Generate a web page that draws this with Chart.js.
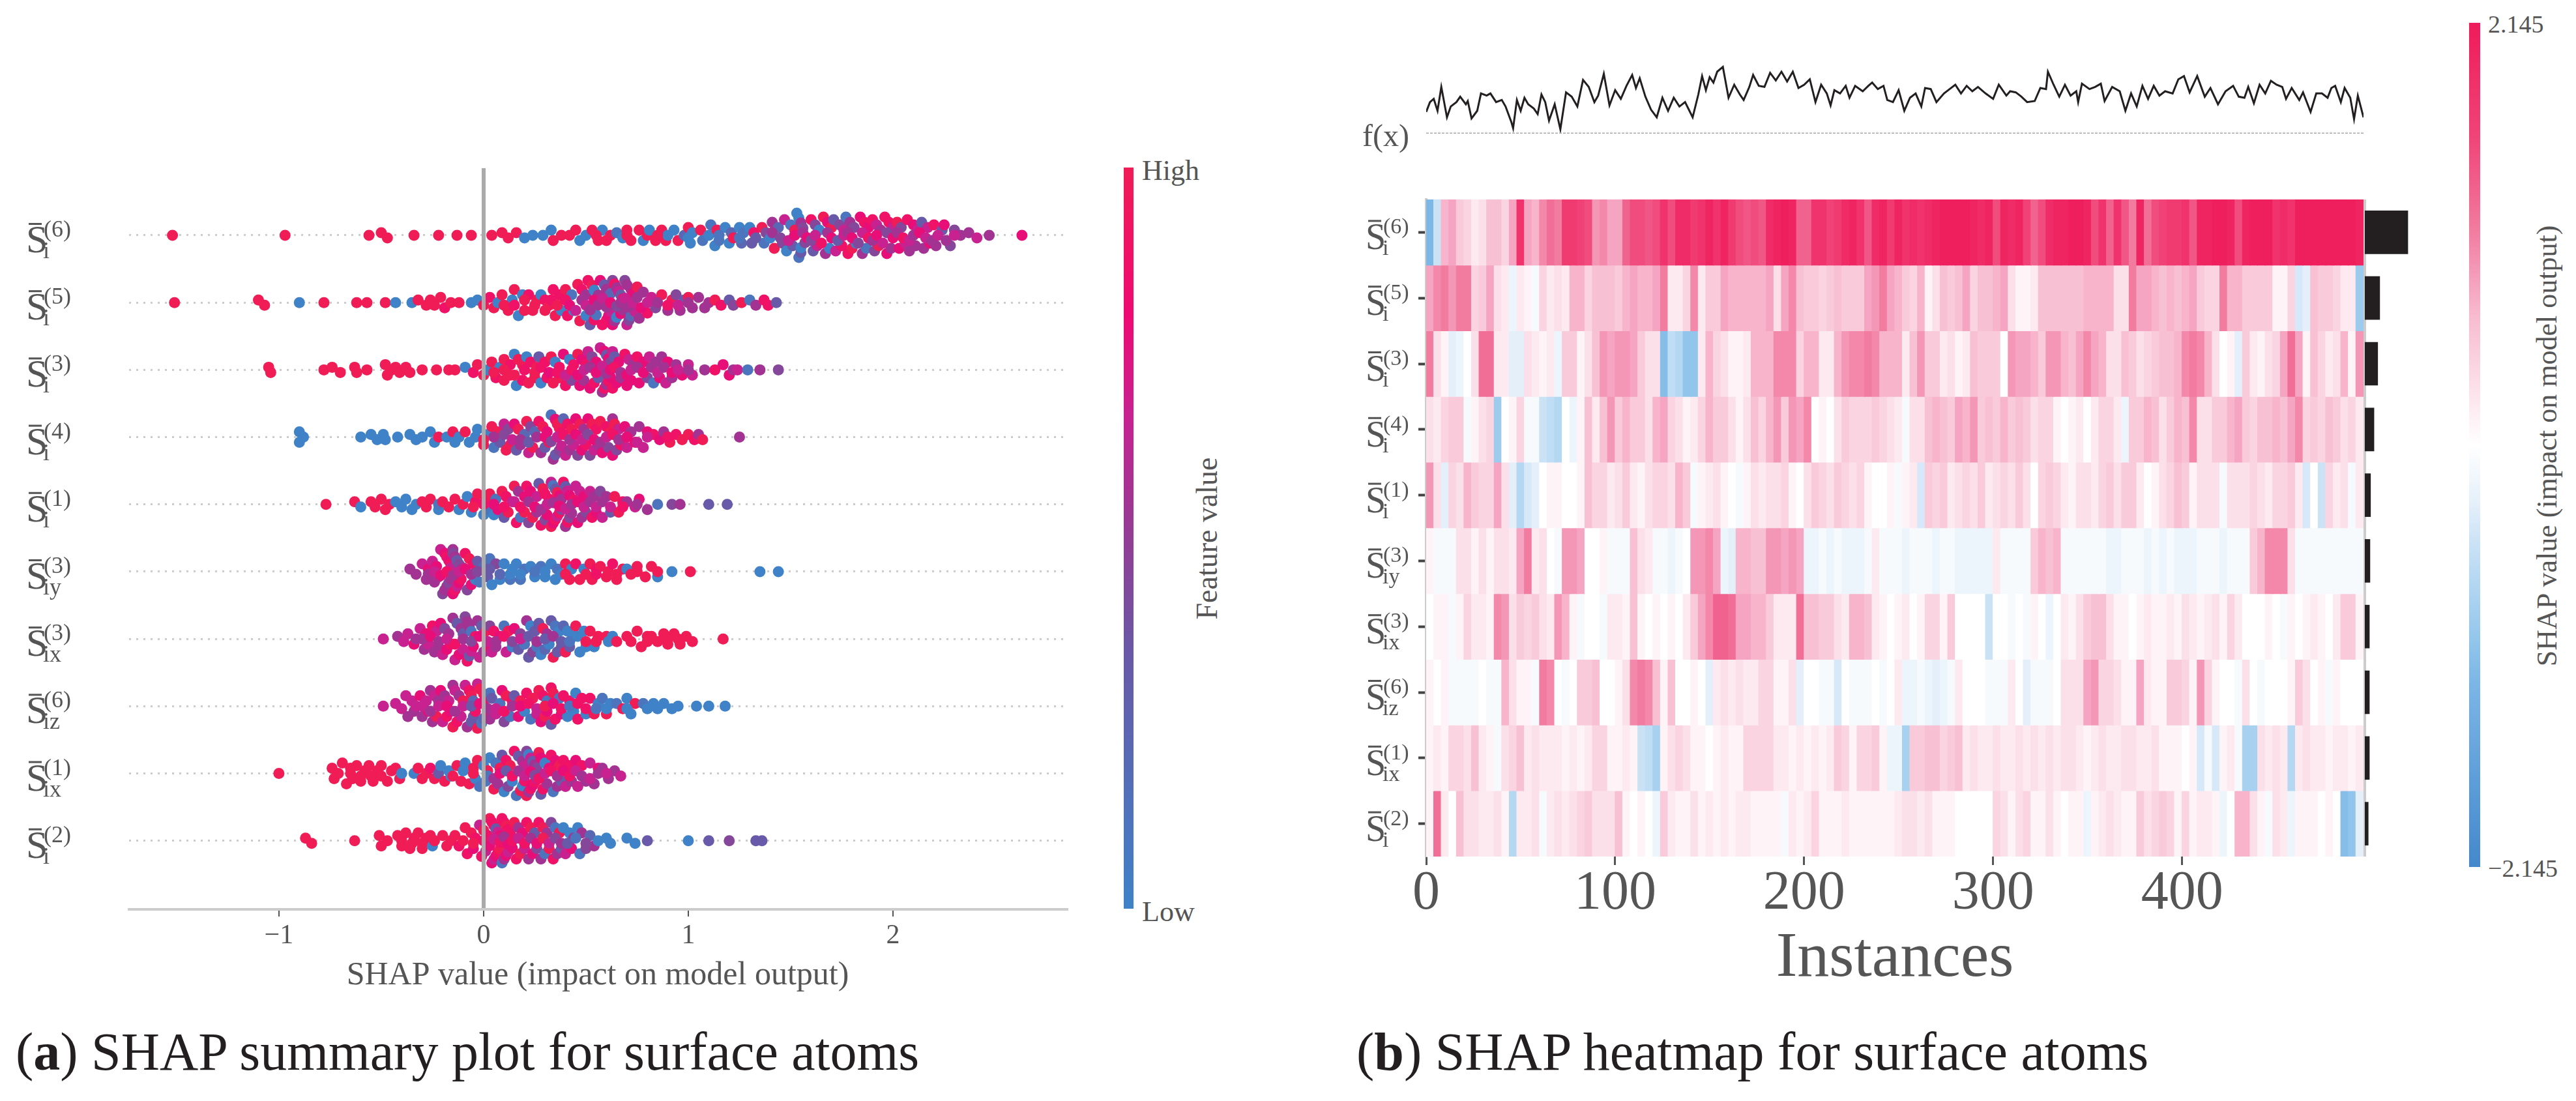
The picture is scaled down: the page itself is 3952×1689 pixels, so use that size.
<!DOCTYPE html>
<html>
<head>
<meta charset="utf-8">
<title>SHAP summary plot and heatmap</title>
<script src="https://cdn.jsdelivr.net/npm/chart.js@4"></script>
<style>
  html, body { margin: 0; background: #fff; }
  body { position: relative; width: 3952px; height: 1689px; overflow: hidden; font-family: "Liberation Serif", serif; color: #555; }
  canvas { position: absolute; }
  .lbl { position: absolute; white-space: nowrap; line-height: 1; }
  .rot { transform: translate(-50%, -50%) rotate(-90deg); }
  .cap { color: #231f20; font-size: 82px; top: 1573px; }
  .bar { position: absolute; }
</style>
</head>
<body>
<canvas id="swarmChart" width="1720" height="1560" style="left:0;top:0"></canvas>
<canvas id="fxChart" width="1640" height="230" style="left:2000px;top:0"></canvas>
<canvas id="heatChart" width="1640" height="1560" style="left:2000px;top:0"></canvas>
<canvas id="meanChart" width="120" height="1008" style="left:3600px;top:306px"></canvas>

<div class="bar" id="cbarLeft" style="left:1724px;top:257px;width:15px;height:1137px"></div>
<div class="lbl" style="left:1752px;top:240px;font-size:44px">High</div>
<div class="lbl" style="left:1752px;top:1377px;font-size:44px">Low</div>
<div class="lbl rot" style="left:1852px;top:826px;font-size:46px">Feature value</div>

<div class="bar" id="cbarRight" style="left:3788px;top:35px;width:17px;height:1295px"></div>
<div class="lbl" style="left:3817px;top:18px;font-size:38px">2.145</div>
<div class="lbl" style="left:3817px;top:1313px;font-size:38px">−2.145</div>
<div class="lbl rot" style="left:3908px;top:684px;font-size:44px">SHAP value (impact on model output)</div>

<div class="lbl" style="left:2090px;top:184px;font-size:48px">f(x)</div>
<div class="lbl cap" style="left:24px">(<b>a</b>) SHAP summary plot for surface atoms</div>
<div class="lbl cap" style="left:2081px">(<b>b</b>) SHAP heatmap for surface atoms</div>

<script>
// ================= ROW NAMES =================
const rowSub = ["i", "i", "i", "i", "i", "iy", "ix", "iz", "ix", "i"];
const rowSup = ["(6)", "(5)", "(3)", "(4)", "(1)", "(3)", "(3)", "(6)", "(1)", "(2)"];
const shapTicks = [-1, 0, 1, 2];
const instanceTicks = [0, 100, 200, 300, 400];

// ================= SWARM: SHAP VALUE + FEATURE VALUE (0 low .. 9 high) =================
const shap6 = [
  -1.52,-.97,-.56,-.5,-.47,-.34,-.22,-.13,-.06,.04,
  .09,.12,.16,.2,.24,.29,.33,.34,.38,.42,
  .45,.47,.5,.53,.56,.58,.6,.62,.65,.68,
  .7,.72,.76,.78,.8,.81,.84,.87,.89,.9,
  .93,.95,.98,1.0,1.01,1.02,1.06,1.07,1.1,1.11,
  1.13,1.14,1.15,1.18,1.2,1.21,1.22,1.25,1.26,1.27,
  1.3,1.31,1.32,1.36,1.37,1.38,1.4,1.41,1.42,1.44,
  1.46,1.47,1.48,1.5,1.51,1.52,1.53,1.54,1.54,1.55,
  1.55,1.55,1.56,1.57,1.6,1.61,1.62,1.63,1.64,1.66,
  1.67,1.68,1.69,1.7,1.71,1.72,1.74,1.75,1.76,1.77,
  1.78,1.79,1.8,1.81,1.82,1.84,1.85,1.86,1.87,1.88,
  1.9,1.91,1.92,1.93,1.94,1.96,1.97,1.98,1.99,2.0,
  2.02,2.03,2.04,2.06,2.07,2.08,2.1,2.11,2.12,2.14,
  2.15,2.17,2.18,2.2,2.21,2.24,2.25,2.28,2.3,2.33,
  2.37,2.41,2.47,2.63,
  1.41,1.45,1.49,1.52,1.56,1.58,1.6,1.62,1.65,1.68,
  1.7,1.73,1.76,1.78,1.8,1.83,1.85,1.88,1.9,1.92,
  1.95,1.97,2.0,2.02,2.05,2.08,2.1,2.13,2.16,2.19,
  2.22,2.26,2.3,.55,.7,.85,1.0,1.15,1.25,1.33];
const feat6 = [
  9,9,9,9,9,9,9,9,9,9,
  9,9,9,0,0,0,0,9,9,9,
  9,0,0,9,9,0,9,9,1,0,
  9,9,9,0,9,0,9,9,9,0,
  0,9,2,9,0,0,9,1,0,1,
  0,9,1,0,0,2,9,0,2,1,
  0,3,8,9,1,4,0,5,9,2,
  4,6,0,1,3,9,0,1,0,3,
  5,0,4,4,8,3,4,6,0,9,
  5,7,0,9,3,6,4,8,6,1,
  8,5,9,4,0,7,5,8,1,7,
  8,4,6,9,5,8,7,8,5,6,
  9,7,4,6,8,5,7,5,6,3,
  5,6,7,8,5,3,7,4,4,5,
  5,6,5,7,
  5,4,6,7,5,7,4,6,8,5,
  7,3,6,5,7,4,6,8,5,7,
  6,4,7,5,8,6,5,7,6,5,
  6,5,6,9,9,9,0,1,1,3];
const shap5 = [
  -1.51,-1.1,-1.07,-.9,-.78,-.62,-.57,-.48,-.43,-.35,
  -.32,-.28,-.26,-.24,-.21,-.19,-.16,-.12,-.06,-.03,
  0,.03,.05,.07,.09,.12,.14,.15,.17,.19,
  .2,.22,.24,.26,.28,.3,.3,.32,.34,.35,
  .37,.38,.4,.41,.43,.44,.46,.47,.48,.5,
  .5,.51,.52,.53,.54,.54,.55,.56,.57,.58,
  .59,.6,.6,.61,.62,.62,.63,.63,.64,.64,
  .65,.65,.66,.67,.67,.68,.68,.69,.7,.7,
  .71,.72,.72,.73,.74,.75,.76,.78,.8,.82,
  .84,.87,.9,.92,.94,.96,.98,1.0,1.02,1.05,
  1.08,1.1,1.13,1.16,1.2,1.22,1.26,1.3,1.33,1.37,
  1.39,1.43,
  .33,.36,.4,.42,.45,.48,.5,.52,.54,.56,
  .58,.6,.62,.65,.67,.69,.71,.73,.75,.77,
  .8,.85,.9,.95,1.0,.2,.25,.1,.15];
const feat5 = [
  9,9,9,0,9,9,9,9,0,0,
  9,9,9,9,9,8,9,9,0,0,
  9,8,9,0,9,9,0,9,0,0,
  9,8,9,9,0,9,8,9,8,9,
  8,0,9,8,1,0,9,9,8,0,
  5,8,3,9,8,0,1,5,7,8,
  3,8,5,7,2,6,4,7,8,5,
  5,0,6,7,3,5,8,4,6,5,
  4,5,2,7,6,9,5,5,8,6,
  4,9,5,9,4,5,3,9,5,5,
  5,5,9,8,3,4,9,1,5,8,
  8,3,
  8,9,8,7,6,5,6,5,7,5,
  6,5,7,4,5,6,5,6,5,7,
  6,5,8,6,5,9,9,9,8];
const shap3 = [
  -1.05,-1.04,-.78,-.74,-.7,-.63,-.62,-.57,-.48,-.47,
  -.45,-.43,-.41,-.38,-.36,-.3,-.23,-.17,-.14,-.09,
  -.05,-.03,0,.02,.04,.06,.08,.1,.1,.13,
  .13,.15,.16,.17,.19,.19,.21,.22,.23,.25,
  .26,.27,.28,.3,.31,.33,.34,.35,.37,.37,
  .39,.4,.42,.43,.44,.46,.47,.48,.49,.5,
  .51,.52,.53,.54,.55,.56,.57,.58,.59,.59,
  .6,.6,.61,.61,.62,.62,.63,.63,.64,.65,
  .66,.67,.69,.7,.71,.72,.73,.75,.76,.78,
  .8,.81,.83,.84,.86,.87,.89,.9,.92,.94,
  .97,1,1.02,1.08,1.13,1.17,1.2,1.22,1.24,1.29,
  1.35,1.44,
  .15,.2,.25,.28,.32,.36,.4,.43,.46,.49,
  .52,.55,.58,.6,.62,.64,.67,.7,.72,.75,
  .78,.82,.85,.88,.92,.95,1.0,.05,.1];
const feat3 = [
  9,9,9,9,9,9,9,9,9,9,
  9,9,9,9,9,9,9,9,9,0,
  8,9,9,0,9,8,0,9,9,8,
  9,0,0,9,8,9,0,9,8,9,
  9,3,0,8,8,9,9,0,9,8,
  7,8,0,4,8,9,7,7,5,8,
  6,7,4,8,7,3,6,5,7,8,
  3,5,7,8,4,7,6,8,3,7,
  7,5,8,7,6,7,5,8,7,7,
  4,6,1,5,7,5,6,7,5,5,
  7,6,6,5,8,7,7,5,6,1,
  5,4,
  9,8,9,8,7,8,6,8,7,6,
  5,7,6,5,7,8,5,7,6,5,
  7,5,6,5,7,6,5,9,9];
const shap4 = [
  -.9,-.9,-.88,-.6,-.55,-.52,-.49,-.48,-.42,-.36,
  -.33,-.3,-.26,-.24,-.22,-.18,-.15,-.14,-.12,-.09,
  -.07,-.04,-.03,0,.02,.04,.05,.07,.08,.1,
  .11,.12,.13,.15,.16,.17,.18,.2,.21,.22,
  .23,.24,.25,.27,.28,.29,.3,.31,.32,.33,
  .34,.35,.35,.36,.37,.37,.38,.38,.39,.4,
  .41,.42,.43,.44,.45,.46,.47,.48,.49,.5,
  .51,.52,.53,.54,.55,.56,.57,.58,.6,.61,
  .62,.63,.63,.64,.65,.66,.67,.69,.7,.72,
  .74,.76,.78,.8,.83,.86,.88,.91,.94,.97,
  1.0,1.03,1.05,1.07,1.25,
  .1,.14,.18,.22,.26,.3,.33,.36,.39,.42,
  .45,.48,.51,.54,.57,.6,.63,.66,.7,.75,
  .8,.9,.05,0];
const feat4 = [
  0,0,0,0,0,0,0,0,0,0,
  0,0,0,0,9,0,9,0,0,9,
  0,0,0,9,0,9,1,9,3,6,
  9,4,9,7,3,9,5,2,9,6,
  4,9,2,8,5,9,3,7,9,1,
  5,7,3,9,4,9,6,8,2,6,
  8,5,9,6,7,4,9,7,5,8,
  7,4,9,6,8,5,9,7,8,4,
  9,5,7,9,4,6,8,7,6,5,
  7,5,6,7,8,7,5,9,8,9,
  9,8,5,9,5,
  4,6,5,3,5,7,4,6,8,5,
  7,6,4,7,5,6,8,5,7,6,
  6,8,5,9];
const shap1 = [
  -.77,-.63,-.6,-.55,-.53,-.5,-.48,-.46,-.43,-.4,
  -.38,-.35,-.33,-.3,-.28,-.26,-.22,-.22,-.2,-.17,
  -.14,-.12,-.1,-.08,-.06,-.04,-.03,0,.01,.02,
  .03,.05,.06,.07,.09,.1,.11,.12,.14,.15,
  .16,.17,.18,.2,.2,.21,.22,.23,.24,.26,
  .26,.27,.28,.29,.3,.3,.31,.32,.33,.33,
  .34,.34,.35,.35,.36,.36,.37,.37,.38,.38,
  .39,.4,.4,.41,.41,.42,.42,.43,.44,.45,
  .46,.47,.48,.49,.5,.52,.53,.54,.55,.57,
  .58,.6,.62,.64,.66,.68,.7,.74,.76,.8,
  .85,.92,.96,1.1,1.19,
  .05,.1,.15,.18,.22,.25,.28,.31,.34,.37,
  .4,.43,.46,.49,.52,.55,.58,.62,.68,.75,
  0,-.05];
const feat1 = [
  9,9,0,9,9,9,9,9,0,0,
  0,0,0,9,9,9,0,1,9,9,
  9,0,9,0,0,8,9,0,9,1,
  9,0,1,7,9,3,8,9,6,9,
  8,5,1,7,9,8,4,7,9,6,
  5,3,8,9,4,8,7,8,6,9,
  1,7,3,8,9,6,7,8,5,4,
  8,5,3,8,6,4,7,5,8,6,
  7,6,5,7,4,6,8,5,7,4,
  6,5,3,9,9,8,5,6,7,5,
  1,4,5,3,3,
  7,8,6,8,5,7,5,6,5,7,
  6,5,7,6,5,6,5,6,8,5,
  8,9];
const shapIy3 = [
  -.36,-.33,-.3,-.28,-.27,-.25,-.24,-.23,-.22,-.21,
  -.2,-.19,-.19,-.18,-.18,-.17,-.17,-.16,-.16,-.16,
  -.15,-.15,-.15,-.14,-.14,-.13,-.13,-.12,-.12,-.11,
  -.1,-.09,-.08,-.07,-.06,-.05,-.04,-.03,-.02,0,
  .02,.03,.04,.06,.08,.1,.13,.14,.16,.18,
  .2,.23,.25,.28,.3,.33,.35,.36,.38,.4,
  .42,.43,.45,.47,.49,.5,.52,.53,.55,.57,
  .6,.61,.63,.65,.68,.7,.72,.75,.79,.82,
  .85,.92,1.01,1.35,1.44,
  -.27,-.24,-.21,-.18,-.15,-.12,-.09,-.06,-.03,.03,
  .08,.13,.18,.25,.3,.4,.55,.65,.75,.85];
const featIy3 = [
  5,5,6,5,7,6,5,7,5,6,
  4,7,5,8,5,7,4,8,5,6,
  5,7,4,8,5,6,3,7,4,8,
  5,8,4,9,7,8,0,3,1,2,
  3,1,0,4,0,0,1,0,0,1,
  1,0,0,1,0,0,0,1,0,9,
  9,0,8,9,0,9,9,9,8,9,
  9,9,8,9,9,0,9,9,9,9,
  0,0,9,0,0,
  5,6,7,8,5,6,7,5,4,3,
  2,0,0,1,0,9,8,9,9,9];
const shapIx3 = [
  -.49,-.42,-.39,-.37,-.34,-.33,-.31,-.29,-.28,-.27,
  -.25,-.24,-.23,-.22,-.21,-.2,-.19,-.18,-.17,-.16,
  -.15,-.14,-.13,-.12,-.11,-.1,-.1,-.09,-.08,-.08,
  -.07,-.07,-.06,-.06,-.05,-.04,-.03,-.02,-.01,0,
  .01,.02,.03,.04,.05,.06,.08,.1,.11,.12,
  .14,.15,.17,.18,.2,.21,.22,.23,.24,.25,
  .26,.27,.28,.29,.3,.31,.32,.33,.34,.35,
  .36,.37,.38,.39,.4,.41,.42,.44,.45,.47,
  .49,.5,.52,.54,.56,.6,.61,.63,.65,.7,
  .72,.75,.77,.8,.82,.85,.88,.9,.93,.96,
  .99,1.02,1.17,
  -.3,-.26,-.22,-.18,-.14,-.1,-.06,-.02,.02,.06,
  .1,.14,.18,.22,.26,.3,.34,.38,.42,.46,
  .5,.55,.8,.9,.95];
const featIx3 = [
  6,5,6,6,7,5,6,5,7,6,
  8,5,6,5,7,6,4,7,5,8,
  5,6,3,7,5,6,3,4,8,5,
  3,5,6,1,7,8,5,6,3,5,
  9,8,4,6,8,5,7,1,6,9,
  0,7,3,4,1,5,3,0,4,3,
  1,3,0,9,2,5,0,3,9,1,
  3,0,3,2,9,0,3,0,9,0,
  0,0,9,0,9,9,0,0,9,9,
  9,9,9,9,9,9,9,9,9,9,
  9,9,9,
  5,7,5,6,8,5,4,7,6,5,
  8,4,6,3,5,3,5,3,1,0,
  9,9,9,9,9];
const shapIz6 = [
  -.49,-.43,-.4,-.38,-.37,-.35,-.34,-.33,-.31,-.3,
  -.28,-.27,-.26,-.25,-.24,-.23,-.22,-.21,-.2,-.19,
  -.18,-.17,-.16,-.15,-.15,-.14,-.13,-.12,-.11,-.1,
  -.09,-.08,-.07,-.06,-.06,-.05,-.05,-.04,-.03,-.03,
  -.02,-.01,0,0,.01,.02,.03,.03,.04,.06,
  .08,.09,.1,.11,.13,.14,.15,.17,.18,.2,
  .21,.23,.24,.26,.27,.28,.29,.3,.31,.31,
  .33,.33,.34,.35,.37,.38,.39,.41,.42,.44,
  .45,.46,.48,.5,.52,.54,.56,.58,.6,.62,
  .65,.68,.7,.72,.74,.78,.8,.83,.85,.88,
  .92,.95,1.04,1.1,1.18,
  -.3,-.26,-.22,-.18,-.14,-.1,-.06,-.02,.02,.06,
  .1,.14,.18,.22,.26,.3,.34,.38,.42,.46,
  .5,.55,.6,.7];
const featIz6 = [
  6,6,6,6,5,6,5,6,7,5,
  6,7,5,5,6,9,5,7,6,5,
  8,6,7,5,9,6,8,5,6,9,
  6,5,8,3,9,3,2,8,6,9,
  9,1,9,2,8,9,1,5,3,6,
  1,7,4,9,1,8,3,7,9,0,
  8,1,9,6,9,7,8,9,1,7,
  8,3,9,8,1,7,8,0,8,0,
  0,8,8,0,8,9,0,1,9,0,
  1,9,0,0,9,1,0,0,0,0,
  0,0,0,0,0,
  6,5,6,7,5,6,3,7,5,6,
  8,5,7,8,6,9,7,8,1,8,
  8,1,0,0];
const shapIx1 = [
  -1,-.74,-.73,-.71,-.69,-.67,-.65,-.64,-.62,-.6,
  -.58,-.56,-.54,-.52,-.5,-.47,-.45,-.43,-.41,-.4,
  -.34,-.32,-.3,-.28,-.26,-.24,-.22,-.21,-.19,-.17,
  -.16,-.13,-.11,-.09,-.07,-.05,-.04,-.03,-.02,0,
  .01,.02,.03,.05,.06,.07,.08,.09,.1,.11,
  .12,.13,.14,.15,.16,.17,.18,.19,.19,.2,
  .2,.21,.21,.22,.22,.23,.23,.24,.24,.25,
  .25,.26,.26,.27,.28,.28,.29,.3,.31,.32,
  .33,.34,.35,.36,.37,.38,.39,.4,.42,.43,
  .45,.46,.48,.5,.52,.54,.56,.58,.61,.64,
  .67,
  .02,.05,.08,.11,.14,.17,.2,.23,.25,.27,
  .3,.33,.36,.39,.42,.45,.48,.52,.56,.6,
  -.6,-.5,-.65,-.55,-.1,-.05,-.15];
const featIx1 = [
  9,9,9,9,9,9,9,9,9,9,
  9,9,9,9,9,9,9,9,9,0,
  0,9,9,9,8,9,3,0,9,0,
  0,9,9,0,9,9,0,9,1,0,
  1,9,0,9,1,5,9,3,0,8,
  4,9,0,8,1,3,9,5,0,6,
  8,4,9,0,5,6,8,3,7,5,
  8,4,6,9,3,7,8,0,5,7,
  8,1,7,5,9,3,8,6,8,5,
  7,6,8,5,6,5,7,5,5,5,
  6,
  1,5,7,3,8,5,6,7,4,8,
  6,8,5,7,8,6,5,6,5,6,
  9,9,9,9,0,9,9];
const shap2 = [
  -.87,-.84,-.63,-.51,-.5,-.47,-.42,-.4,-.38,-.36,
  -.34,-.32,-.3,-.28,-.26,-.25,-.24,-.2,-.18,-.16,
  -.14,-.12,-.09,-.08,-.06,-.05,-.04,-.02,-.01,0,
  .01,.02,.02,.03,.04,.04,.05,.05,.06,.06,
  .07,.07,.08,.08,.09,.09,.1,.1,.11,.11,
  .12,.12,.13,.14,.15,.16,.17,.18,.19,.2,
  .21,.22,.23,.24,.25,.26,.27,.28,.29,.3,
  .31,.32,.33,.34,.35,.36,.37,.38,.39,.4,
  .42,.43,.44,.46,.47,.48,.5,.52,.54,.56,
  .6,.62,.7,.74,.8,1,1.1,1.2,1.33,1.36,
  0,.03,.05,.08,.1,.12,.14,.17,.2,.23,
  .26,.29,.32,.35,.38,.41,.45,.5,-.05,-.1,
  -.3,-.35,-.4];
const feat2 = [
  9,9,9,9,9,9,9,9,9,9,
  9,9,9,9,9,0,9,9,9,9,
  9,8,9,8,9,7,8,6,8,9,
  6,8,5,9,7,8,6,8,7,3,
  8,6,9,7,8,1,8,5,9,7,
  8,6,8,7,9,8,5,9,7,6,
  8,5,9,7,3,4,8,5,9,1,
  5,9,4,8,1,5,9,3,0,6,
  0,7,5,0,1,5,4,2,5,0,
  0,0,0,0,3,0,3,4,3,3,
  8,7,6,8,5,7,8,6,8,5,
  7,9,6,4,5,3,1,4,9,9,
  9,9,9];

const swarmShap = [shap6, shap5, shap3, shap4, shap1, shapIy3, shapIx3, shapIz6, shapIx1, shap2];
const swarmFeat = [feat6, feat5, feat3, feat4, feat1, featIy3, featIx3, featIz6, featIx1, feat2];

// ================= f(x) LINE =================
const fxIndex = [
  0,2,4,6,8,11,13,16,18,21,22,24,27,29,32,34,37,40,42,45,46,48,50,52,54,57,59,61,63,65,68,71,74,77,80,83,86,89,91,94,
  97,100,103,106,109,111,113,116,119,122,125,128,131,134,137,141,144,146,148,150,152,154,157,160,163,166,168,171,173,176,
  179,182,185,188,191,194,197,200,203,206,209,212,214,216,219,222,224,227,231,234,236,239,242,244,247,250,253,256,259,262,
  264,267,270,274,277,280,283,286,289,292,296,300,303,307,309,312,315,318,322,325,328,329,332,335,338,341,344,345,347,351,
  354,357,359,363,367,370,373,376,379,382,385,388,391,395,398,401,404,408,412,415,419,423,427,430,433,435,438,441,444,447,
  450,453,455,458,462,464,468,471,474,477,479,481,484,486,489,491,493,496];
const fxValue = [
  1,1.45,1.6,1.05,2.15,.75,1.25,1.45,1.7,1.35,1.5,.7,1.05,1.85,1.75,1.85,1.45,1.55,1.25,.55,.25,1.55,1.05,1.65,1.35,1.15,.9,1.8,1.45,.6,1.35,.2,1.9,1.7,1.25,2.47,2.15,1.45,1.75,2.75,
  1.3,2,1.6,2.2,2.7,2.1,2.55,1.7,1.1,.75,1.65,1.05,1.65,1.25,1.45,.75,1.8,2.65,2,2.6,2.35,2.85,3.07,1.65,2.25,1.8,1.55,2.15,2.7,2.2,
  2.15,2.8,2.45,2.85,2.4,2.85,2.1,2.25,2.5,1.45,2.25,1.85,1.3,2,1.85,2.2,1.65,2.2,1.95,2.2,2.35,2.05,2.2,1.55,1.45,2,1.05,1.65,1.85,1.25,
  2.1,2.05,1.45,1.85,2.05,2.25,1.85,2.2,1.95,2.15,1.85,1.6,2.25,1.75,1.95,1.9,1.7,1.45,1.5,2.1,2.05,2.85,2.25,1.7,2.25,1.75,1.95,1.45,2.3,2.05,
  2.15,2.3,1.5,2.15,1.95,1.05,1.85,1.25,2.2,1.6,2.2,1.75,1.95,1.85,2.5,2.65,1.9,2.65,1.7,2.1,1.35,1.95,2.2,1.7,1.65,2.15,1.4,2.25,1.85,2.43,
  2.25,2.15,1.6,2.1,1.55,1.9,1,1.85,1.85,1.65,2.1,2.2,1.45,2.1,1.65,.67,1.75,.75];
const baseValue = [0, 0];
const baseIndex = [0, 496];

// ================= HEATMAP: SHAP VALUE IN TENTHS, ONE ENTRY PER 4 INSTANCES =================
const heat6 = [
  -12,-5,7,8,5,4,2,3,6,6,4,8,18,8,7,10,12,11,17,17,16,15,9,10,8,8,13,15,15,14,15,18,15,19,19,17,18,20,18,20,
  17,15,14,15,14,19,20,21,20,13,13,18,18,16,17,19,20,18,14,19,20,17,20,18,19,18,19,20,21,21,21,21,20,19,20,15,20,19,20,16,
  13,15,19,20,20,21,21,20,15,18,13,18,14,11,20,12,15,16,17,17,18,14,20,20,21,21,20,15,20,21,21,21,18,19,18,21,21,21,21,21,
  21,21,21,20];
const heat5 = [
  8,10,11,9,11,11,4,5,8,3,2,-2,2,1,-1,4,2,3,2,7,7,4,6,6,6,5,7,8,7,7,8,11,2,2,4,10,2,5,5,8,
  7,7,7,7,7,8,3,8,10,6,5,5,4,5,6,5,5,5,8,9,11,8,7,5,4,7,1,3,6,5,6,8,4,6,6,7,8,3,1,1,
  2,6,6,6,6,6,6,7,7,7,7,3,3,11,8,8,7,6,7,6,7,8,5,4,4,11,7,7,5,5,5,5,1,1,4,-4,-3,6,5,5,
  4,2,2,-9];
const heat3 = [
  11,3,1,-3,-2,0,3,12,12,2,2,-3,-3,3,2,1,2,-2,5,5,1,3,6,9,8,9,9,8,5,3,3,-11,-6,-7,-10,-10,2,7,4,3,
  1,1,2,7,7,7,10,10,10,4,7,7,2,2,7,9,10,10,11,10,7,7,7,2,6,9,5,5,2,3,1,2,6,5,5,5,0,9,8,8,
  7,5,9,9,7,6,8,10,8,7,3,3,6,5,3,4,5,6,6,7,10,11,10,7,3,0,1,-3,5,2,1,3,4,8,12,8,1,6,4,2,
  3,7,1,9];
const heat4 = [
  3,2,4,5,5,-1,1,3,4,-9,0,1,4,-1,-1,-5,-6,-7,0,-2,1,6,2,6,9,5,7,5,5,3,7,8,4,3,1,2,4,7,5,5,
  3,1,3,6,4,7,9,5,9,8,10,0,1,0,3,5,4,4,4,5,4,3,2,-1,3,3,6,7,6,5,8,7,9,5,6,5,7,5,6,5,
  3,4,4,1,0,1,2,0,2,4,4,2,-2,5,5,7,6,3,5,7,6,10,3,3,5,5,7,8,5,4,6,6,7,6,8,10,4,5,4,6,
  5,3,4,2];
const heat1 = [
  9,3,-3,4,3,7,5,4,4,8,3,-3,-7,-4,-3,0,1,1,0,0,1,6,4,4,2,3,5,2,1,3,4,4,3,7,5,-1,1,2,3,1,
  0,-1,1,3,2,3,3,4,1,0,3,5,4,3,5,4,3,4,1,0,0,1,-1,1,2,-4,5,4,5,2,3,4,3,5,2,3,4,3,5,3,
  0,4,5,4,2,1,3,3,2,4,5,3,5,5,2,0,1,3,4,6,5,1,3,3,3,-1,3,3,3,4,3,2,4,4,5,2,-4,0,-5,4,
  2,3,-1,2];
const heatIy3 = [
  1,-1,-1,-1,3,3,1,3,1,3,3,2,8,11,2,3,0,-1,9,9,8,0,0,1,-1,-1,-1,6,3,2,-1,-1,-2,-1,0,9,9,10,8,-2,
  -3,7,7,6,6,9,9,8,9,8,-2,-2,-1,-2,-1,-2,-2,-2,-1,2,-1,-1,-1,-2,-1,-1,-1,-2,-1,-1,-2,-2,-2,-2,-2,2,-1,-1,-1,-1,
  5,7,6,7,-1,-1,-1,-1,-1,-1,-2,-2,-1,-1,-1,-2,-1,-2,-1,-2,-2,-2,-1,-1,-1,-2,-1,-1,-1,5,7,10,10,10,3,-1,-1,-1,-1,-1,
  -1,-1,-1,-1];
const heatIx3 = [
  0,1,1,-1,1,4,2,2,1,10,9,3,5,4,5,3,2,9,7,1,-1,0,0,-1,2,2,1,6,1,0,1,0,1,0,2,5,8,10,13,13,
  12,8,8,7,7,5,2,2,2,12,6,6,5,5,3,2,7,7,6,2,1,0,1,2,0,1,4,4,1,5,0,0,0,0,-5,0,0,-1,0,-1,
  1,0,-2,0,2,1,3,5,6,6,3,1,1,0,1,2,1,1,2,1,3,2,1,2,3,1,4,2,0,0,0,1,0,-1,1,0,1,2,1,0,
  2,5,5,1];
const heatIz6 = [
  1,0,1,-1,-1,-1,-1,0,-1,-1,7,3,1,1,-1,11,10,0,-1,0,5,5,6,0,0,1,3,10,11,10,6,1,6,0,0,1,0,-3,2,3,
  2,3,2,2,4,4,1,1,3,-3,0,0,-1,-1,-4,0,-1,-1,-1,0,-1,0,2,-2,-2,-1,-2,-3,-2,-1,2,0,0,0,-1,-1,-1,2,0,-3,
  -1,-1,-1,0,3,3,3,8,9,4,4,3,1,1,8,2,1,1,5,5,4,1,9,4,1,0,0,-1,3,0,-1,0,0,0,1,5,3,0,1,-1,
  1,0,0,0];
const heatIx1 = [
  1,2,1,4,4,3,6,2,1,-1,3,4,6,2,3,2,2,2,1,2,1,2,4,4,1,1,2,1,-5,-6,-8,1,3,4,3,1,1,0,1,2,
  1,1,4,4,4,4,2,2,1,2,1,2,1,2,5,4,1,4,4,5,1,-2,-2,-8,5,5,6,6,4,5,6,2,3,2,2,3,2,2,3,2,
  3,2,3,2,3,3,2,1,2,3,2,2,3,3,2,2,3,1,1,1,0,1,-4,-1,-4,1,2,-1,-8,-8,3,2,3,2,-7,2,3,2,2,1,
  2,2,1,2];
const heat2 = [
  1,12,2,0,6,3,3,2,2,3,1,-7,2,2,3,-1,2,3,2,3,4,5,3,3,3,6,1,0,1,0,-2,5,2,1,1,3,1,2,1,2,
  1,2,2,1,1,1,1,-1,2,1,2,4,1,1,1,2,1,1,1,1,1,1,2,3,3,2,3,1,1,1,0,0,0,0,0,4,3,1,3,4,
  1,1,3,1,0,1,1,-2,1,2,3,2,1,1,5,3,4,5,4,1,4,1,2,2,1,-2,0,7,7,3,1,-1,3,2,-2,1,1,1,0,1,
  0,-11,-10,-3];
const heatRows = [heat6, heat5, heat3, heat4, heat1, heatIy3, heatIx3, heatIz6, heatIx1, heat2];
const heatStep = 4;

// ================= MEAN |SHAP| BARS =================
const meanAbs = [1.5, 0.52, 0.45, 0.32, 0.2, 0.18, 0.16, 0.16, 0.16, 0.12];

// ================= WARNA =================
const FEATURE_STOPS = [[0, "#3f82c8"], [0.35, "#6a58a6"], [0.45, "#854699"], [0.54, "#9e3693"], [0.67, "#c82190"], [0.8, "#ee0a72"], [1, "#f01c56"]];
const HEAT_STOPS = [[-1, "#4488cc"], [-0.57, "#7ab5e5"], [-0.46, "#93c6eb"], [-0.35, "#aed4f1"], [-0.243, "#c8e1f5"], [-0.135, "#e5f0fa"], [0, "#ffffff"],
  [0.15, "#fbdde7"], [0.3, "#f8bcd0"], [0.4, "#f49dbb"], [0.5, "#f27ea2"], [0.62, "#f05f8c"], [0.73, "#f04478"], [1, "#ef1b5a"]];

function hexRgb(h) {
  return [1, 3, 5].map((i) => parseInt(h.substr(i, 2), 16));
}
function warna(stops, t) {
  for (let i = 1; i < stops.length; i++) {
    if (t <= stops[i][0]) {
      const a = stops[i - 1], b = stops[i];
      const k = (t - a[0]) / (b[0] - a[0]);
      const ca = hexRgb(a[1]), cb = hexRgb(b[1]);
      return "rgb(" + ca.map((c, j) => Math.round(c + (cb[j] - c) * k)).join(",") + ")";
    }
  }
  return stops[stops.length - 1][1];
}
function cssGradient(stops, lo, hi) {
  return "linear-gradient(to top," + stops.map((s) => s[1] + " " + ((s[0] - lo) / (hi - lo)) * 100 + "%").join(",") + ")";
}
document.getElementById("cbarLeft").style.background = cssGradient(FEATURE_STOPS, 0, 1);
document.getElementById("cbarRight").style.background = cssGradient(HEAT_STOPS, -1, 1);

// ================= LABEL BARIS =================
const rowLabelPlugin = {
  id: "rowLabels",
  afterDraw(chart, args, opts) {
    const ctx = chart.ctx;
    const yScale = chart.scales.y;
    ctx.save();
    ctx.fillStyle = "#555";
    ctx.textBaseline = "alphabetic";
    ctx.textAlign = "left";
    rowSub.forEach((sub, i) => {
      const c = yScale.getPixelForValue(i);
      ctx.font = opts.big + "px 'Liberation Serif'";
      ctx.fillText("S", opts.x, c + 26);
      ctx.fillRect(opts.x + 4, c - 19, 20, 3);
      ctx.font = opts.small + "px 'Liberation Serif'";
      ctx.fillText(rowSup[i], opts.x + 27, c + 2);
      ctx.fillText(sub, opts.x + 26, c + 35);
    });
    ctx.restore();
  },
};

// ================= SWARM =================
const BIN_WIDTH = 0.06;
const MAX_STEP_PX = 8;
const MAX_SPREAD_PX = 68;
const ROW_PX = 103.2;

// dots that share a bin are stacked symmetrically around the row line
function swarmPoints(xs, row) {
  const bins = {};
  xs.forEach((v, i) => {
    const b = Math.round(v / BIN_WIDTH);
    (bins[b] = bins[b] || []).push(i);
  });
  const pts = xs.map((v) => ({ x: v, y: row }));
  Object.values(bins).forEach((list) => {
    const n = list.length;
    if (n < 2) return;
    const step = Math.min(MAX_STEP_PX, MAX_SPREAD_PX / (n - 1));
    list.forEach((idx, j) => {
      const slot = j % 2 ? n - 1 - (j - 1) / 2 : j / 2;
      pts[idx].y = row + ((slot - (n - 1) / 2) * step) / ROW_PX;
    });
  });
  return pts;
}

new Chart(document.getElementById("swarmChart"), {
  type: "scatter",
  plugins: [rowLabelPlugin],
  data: {
    datasets: swarmShap.map((xs, row) => ({
      data: swarmPoints(xs, row),
      pointRadius: 8.5,
      pointBorderWidth: 0,
      pointBackgroundColor: swarmFeat[row].map((f) => warna(FEATURE_STOPS, f / 9)),
    })),
  },
  options: {
    responsive: false,
    animation: false,
    devicePixelRatio: 1,
    layout: { padding: { left: 198, top: 258, right: 84, bottom: 0 } },
    plugins: { legend: { display: false }, tooltip: { enabled: false }, rowLabels: { x: 40, big: 60, small: 36 } },
    scales: {
      x: {
        type: "linear",
        min: -1.732,
        max: 2.847,
        afterBuildTicks: (s) => { s.ticks = shapTicks.map((value) => ({ value })); },
        afterFit: (s) => { s.height = 165; },
        border: { display: true, color: "#ccc", width: 4, z: 1 },
        grid: {
          z: 1,
          color: (c) => (c.tick && c.tick.value === 0 ? "#aaa" : "rgba(0,0,0,0)"),
          lineWidth: 6,
          tickColor: "#555",
          tickWidth: 2,
          tickLength: 11,
        },
        ticks: { color: "#555", font: { family: "Liberation Serif", size: 42 }, padding: 5, maxRotation: 0, callback: (v) => String(v).replace("-", "−") },
        title: { display: true, text: "SHAP value (impact on model output)", color: "#555", font: { family: "Liberation Serif", size: 50 }, padding: { top: 0, bottom: 33 } },
      },
      y: {
        min: -0.998,
        max: 10.02,
        reverse: true,
        afterBuildTicks: (s) => { s.ticks = rowSub.map((_, value) => ({ value })); },
        afterFit: (s) => { s.width = 0; },
        ticks: { display: false },
        border: { display: false, dash: [3, 8] },
        grid: { color: "#ccc", lineWidth: 3, drawTicks: false },
      },
    },
  },
});

// ================= f(x) =================
new Chart(document.getElementById("fxChart"), {
  type: "scatter",
  data: {
    datasets: [
      {
        data: baseIndex.map((x, i) => ({ x, y: baseValue[i] })),
        showLine: true,
        pointRadius: 0,
        borderColor: "#aaa",
        borderWidth: 3,
        borderDash: [4, 2],
      },
      {
        data: fxIndex.map((x, i) => ({ x, y: fxValue[i] })),
        showLine: true,
        pointRadius: 0,
        borderColor: "#231f20",
        borderWidth: 3,
      },
    ],
  },
  options: {
    responsive: false,
    animation: false,
    devicePixelRatio: 1,
    layout: { padding: { left: 188, right: 14, top: 60, bottom: 25 } },
    plugins: { legend: { display: false }, tooltip: { enabled: false } },
    scales: {
      x: { type: "linear", min: 0, max: 496, display: false },
      y: { min: 0, max: 4.35, display: false },
    },
  },
});

// ================= HEATMAP =================
new Chart(document.getElementById("heatChart"), {
  type: "bar",
  plugins: [rowLabelPlugin],
  data: {
    datasets: heatRows.map((vals, row) => ({
      data: vals.map((v, i) => ({ x: i * heatStep + heatStep / 2, y: [row - 0.5, row + 0.5] })),
      backgroundColor: vals.map((v) => warna(HEAT_STOPS, v / 21.45)),
      borderWidth: 0,
      barThickness: 12.2,
      grouped: false,
    })),
  },
  options: {
    responsive: false,
    animation: false,
    devicePixelRatio: 1,
    layout: { padding: { left: 176, top: 306, right: 14, bottom: 0 } },
    plugins: { legend: { display: false }, tooltip: { enabled: false }, rowLabels: { x: 95, big: 56, small: 34 } },
    scales: {
      x: {
        type: "linear",
        min: 0,
        max: 496,
        offset: false,
        afterBuildTicks: (s) => { s.ticks = instanceTicks.map((value) => ({ value })); },
        afterFit: (s) => { s.height = 246; },
        border: { display: false },
        grid: { offset: false, drawOnChartArea: false, tickColor: "#555", tickWidth: 3, tickLength: 13 },
        ticks: { color: "#555", font: { family: "Liberation Serif", size: 84 }, padding: -5, maxRotation: 0 },
        title: { display: true, text: "Instances", color: "#555", font: { family: "Liberation Serif", size: 98 }, padding: { top: 0, bottom: 30 } },
      },
      y: {
        min: -0.5,
        max: 9.5,
        reverse: true,
        afterBuildTicks: (s) => { s.ticks = rowSub.map((_, value) => ({ value })); },
        afterFit: (s) => { s.width = 12; },
        ticks: { display: false },
        border: { display: true, color: "#ccc", width: 4 },
        grid: { drawOnChartArea: false, tickColor: "#444", tickWidth: 4, tickLength: 12 },
      },
    },
  },
});

// ================= MEAN BARS =================
new Chart(document.getElementById("meanChart"), {
  type: "bar",
  data: {
    labels: rowSub.map((s, i) => s + rowSup[i]),
    datasets: [{ data: meanAbs, backgroundColor: "#231f20", barThickness: 66 }],
  },
  options: {
    indexAxis: "y",
    responsive: false,
    animation: false,
    devicePixelRatio: 1,
    layout: { padding: { left: 28, right: 22 } },
    plugins: { legend: { display: false }, tooltip: { enabled: false } },
    scales: {
      x: { min: 0, max: 1.59, display: false },
      y: {
        afterFit: (s) => { s.width = 0; },
        ticks: { display: false },
        grid: { display: false, drawTicks: false },
        border: { display: true, color: "#ccc", width: 4 },
      },
    },
  },
});
</script>
</body>
</html>
